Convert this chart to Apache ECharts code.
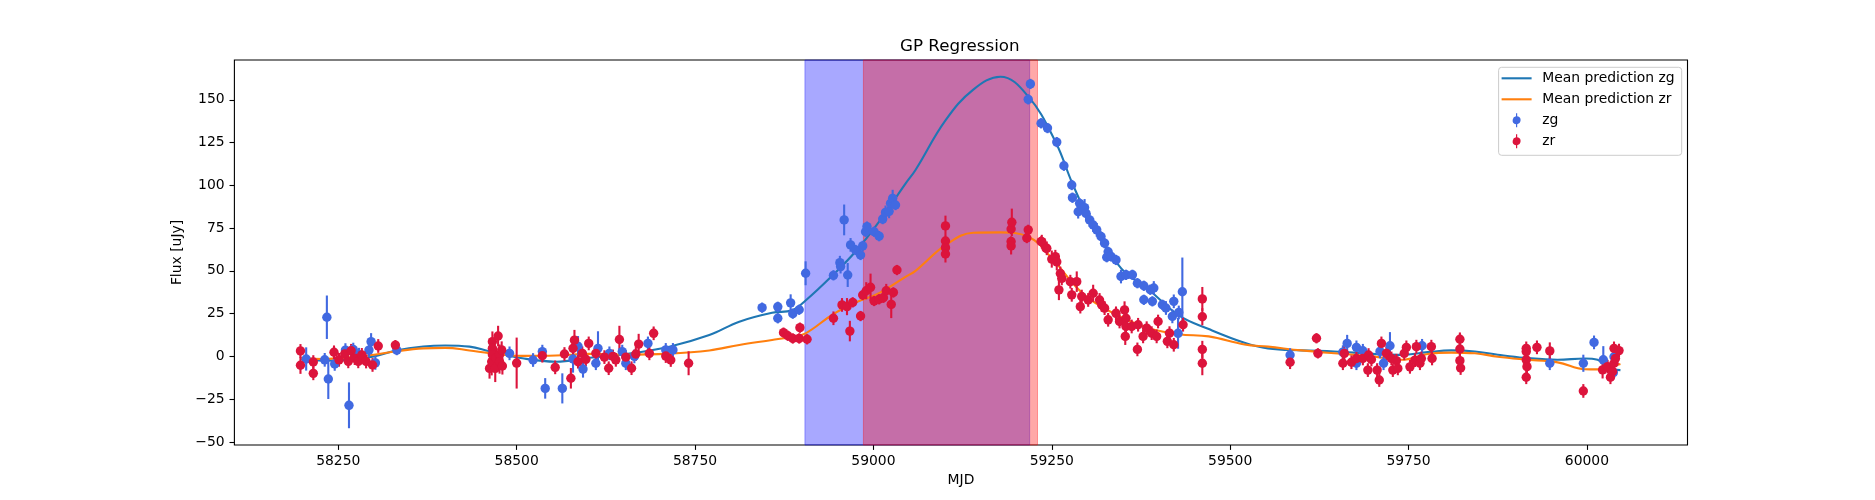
<!DOCTYPE html>
<html>
<head>
<meta charset="utf-8">
<script src="https://cdn.jsdelivr.net/npm/echarts@6/dist/echarts.min.js"></script>
<style>html,body{margin:0;padding:0;background:#fff}#c{width:1875px;height:500px}</style>
</head>
<body>
<div id="c"></div>
<script>
// ---- tick labels ----
const xTicks = [58250, 58500, 58750, 59000, 59250, 59500, 59750, 60000];
const yTicks = [-50, -25, 0, 25, 50, 75, 100, 125, 150];

// ---- shaded intervals (MJD) ----
const bandZg = [58904, 59219];
const bandZr = [58986, 59230];

// ---- GP mean predictions ----
const gpMjd = [58197,58230,58266,58300,58331,58369,58400,58434,58462,58508,58555,58602,58650,58714,58770,58812,58858,58886,58905,58943,58975,59008,59045,59059,59101,59140,59178,59217,59255,59279,59303,59347,59386,59428,59470,59520,59553,59600,59646,59700,59740,59777,59810,59843,59875,59912,59959,59997,60015,60029,60047];
const gpZg = [-1.5,-2.5,-2,0,3.5,5.8,6.4,5.7,3,-1.1,-3.1,-0.8,1.2,5.7,12.5,20.3,25.5,27,32.7,47.5,61.3,78.8,101,109,138,156,163.5,152,125.7,101,80,51.6,39,24,16,8,4.7,3.5,2.9,1.5,0.9,2.5,3.5,2.9,1,-0.8,-2,-1.2,-2,-6.6,-8];
const gpZr = [-1,-1.5,-0.5,1,3,4.7,5,3.5,1.9,0.3,0.5,1.5,1,1.6,3.5,6.7,9.6,11.5,13.5,24.5,31.5,37,46.5,50,65,72.3,72.5,70,55,43,33.5,23,16.5,13,11.7,7,5.7,3.5,1.8,0,-2,1.4,2.2,1.8,-0.2,-1.8,-3.5,-7.5,-7.6,-6.5,-4.5];

// ---- zg observations ----
const zgMjd = [58205,58231,58234,58236,58245,58260,58265,58271,58279,58293,58296,58302,58332,58490,58523,58536,58540,58564,58579,58586,58593,58611,58614,58630,58648,58653,58665,58684,58709,58719,58844,58866,58866,58884,58887,58896,58905,58944,58953,58954,58959,58964,58968,58975,58982,58985,58989,58991,59001,59008,59013,59017,59022,59024,59027,59031,59217,59220,59235,59244,59257,59267,59278,59279,59287,59289,59296,59298,59303,59308,59313,59319,59324,59329,59327,59333,59340,59347,59354,59363,59370,59379,59379,59388,59391,59393,59405,59410,59419,59421,59427,59428,59433,59584,59658,59664,59677,59677,59686,59710,59715,59724,59769,59948,59995,60010,60023,60037,60038];
const zgFlux = [-1.5,-2,22.9,-13.2,-4.4,3.7,-28.6,4,1,3.7,8.6,-3.8,3.7,1.8,-2.1,2.8,-18.7,-18.7,-1.5,5.9,-7.4,-4,4.7,1.8,2.8,-4,0,7.6,3.8,3.8,28.5,29,22.3,31.3,25,27.3,48.6,47.4,54.8,52.5,79.8,47.6,65.2,62.2,59.3,64.6,72.9,75.9,72.9,70.3,80.3,84.2,84.8,89.5,92.4,88.5,150.3,159.3,136.3,133.5,125.3,111.5,100.2,92.8,84.6,89.5,87,83.6,79.8,76.8,74,70.1,66.2,61.2,58,58.5,56.4,46.7,47.7,47.7,42.8,41.3,33.1,39,32.2,40,30.2,28.3,23.4,32.2,13.5,25.7,37.8,0.8,2.5,7.6,5.3,-4,3.3,2.9,-4,6.2,6.2,-4,-4,8.2,-2,-9.5,-0.2];
const zgErr = [6.8,4,12.7,11.7,4,4,13.4,4,4,4,5,4,3,4,4,4,6,8.8,8,6,5,4,10,4,4,4,4,4,4,4,3,3,3,5,3,3,7,3,4,4,9,7,4,3,3,3,3,3,3,3,3,4,4,5,5,3,3,3,3,3,3,3,3,3,4,3,5,4,4,4,4,3,3,3,3,3,3,4,3,3,3,3,3,3,3,4,3,4,4,4,9,4,20,4,4,5,4,4,4,4,4,8,4,4,5,4,8,4,4];

// ---- zr observations ----
const zrMjd = [58197,58197,58215,58215,58244,58251,58259,58264,58268,58273,58278,58283,58289,58298,58306,58330,58462,58465,58466,58466,58466,58470,58471,58474,58476,58476,58479,58480,58500,58536,58554,58567,58576,58579,58581,58586,58592,58597,58601,58611,58623,58629,58635,58639,58644,58653,58661,58667,58671,58686,58692,58709,58716,58741,58874,58880,58887,58896,58897,58907,58944,58956,58963,58967,58971,58982,58985,58990,58996,59001,59008,59014,59018,59025,59028,59033,59101,59101,59101,59101,59193,59193,59193,59194,59215,59217,59235,59242,59236,59243,59250,59255,59257,59260,59262,59264,59276,59278,59285,59290,59292,59301,59308,59317,59320,59324,59329,59340,59345,59352,59353,59354,59354,59362,59370,59371,59378,59383,59390,59397,59399,59412,59415,59421,59434,59461,59461,59461,59461,59584,59621,59623,59658,59660,59670,59677,59686,59693,59694,59698,59706,59709,59712,59719,59726,59728,59733,59735,59744,59747,59752,59759,59761,59766,59768,59782,59783,59822,59822,59822,59823,59915,59915,59915,59916,59915,59930,59948,59995,60022,60029,60033,60036,60038,60040,60038,60045];
const zrFlux = [3.2,-5.2,-3.3,-9.9,2.4,-2,1.5,-2.9,3.3,-1,-2.9,0.9,-3,-5,6.1,6.6,-7,-3.1,8.6,4.7,1,-7,-1,11.9,1,-3.1,3.8,-5.6,-3.9,0.4,-6.4,1.4,-12.8,4.7,9.5,-3.1,1.8,-1.7,7.6,1.8,-0.4,-6.9,0,-2,9.9,-0.4,-6.9,1.4,7.2,1.8,13.5,0.2,-2.1,-4,13.9,12.1,10.5,10.5,16.8,10,22.3,30.1,29.1,14.8,31.6,23.6,35.9,38.4,40.4,32.4,33.4,34.3,38.4,30.4,37.4,50.5,76.3,67.5,63.6,59.9,74.5,67.2,64.6,78.4,69.2,74,67.2,63.3,67.1,63.2,56.9,58.3,55.3,38.9,48.5,45.6,43.7,36,43.7,29.1,35,33,36.9,33,30.1,28.2,21.4,25.2,20.4,27.2,11.7,22.3,17.5,17.5,4.1,18.5,11.7,16.5,13.6,11.7,20.4,8.8,13.6,6.8,18.5,33.6,23.2,4.1,-4,-3.4,10.6,1.8,-4,1.8,-3.4,-1.2,-1.2,-8,0.8,-1.8,-8,-13.8,7.6,1.8,-1.2,-8,-2.5,-7,1.8,5.3,-6.1,-2.2,5.7,-4,-1.2,5.7,-1.2,10,4.3,-2.5,-6.8,4.7,2.8,-2,-6,-12.2,5.3,3.2,-20.2,-7.9,-6,-12.2,-8.8,-4,-1.2,4.7,3.4];
const zrErr = [4,5,4,4,4,4,4,4,4,4,4,4,4,4,4,3,6,8,6,6,7,8,6,6,6,7,5,5,14.9,4,4,4,6,6,6,4,4,4,4,4,4,4,4,4,8,4,4,4,6,4,4,4,4,7,3,3,3,3,3,3,4,4,5,6,3,3,3,5,8,3,3,3,4,8,3,3,6,3,3,5,3,3,5,8,3,3,3,3,4,4,5,4,5,6,4,4,4,4,6,4,4,4,5,4,4,4,4,4,4,5,5,5,5,4,4,4,4,4,4,4,4,4,4,4,4,7,5,5,7,4,3,3,4,4,4,4,4,4,4,4,4,4,4,4,4,4,4,4,4,4,4,4,4,4,4,4,4,4,4,4,4,4,4,4,4,4,4,5,4,5,4,4,4,4,4,4,4,4];

const FONT = 'DejaVu Sans';
const C_ZG = '#4169e1', C_ZR = '#dc143c', C_L1 = '#1f77b4', C_L2 = '#ff7f0e';
const fmt = v => String(v).replace('-', '\u2212');
const zip = (a, b, c) => a.map((v, i) => c ? [v, b[i], c[i]] : [v, b[i]]);
const errIcon = 'path://M4.4,0H5.6V3.05A4,4,0,0,1,5.6,10.95V14H4.4V10.95A4,4,0,0,1,4.4,3.05Z';
const lineIcon = 'path://M0,0M30,14M0,5.95H30V8.05H0Z';

function errSeries(name, data, color) {
  return {
    type: 'custom', name: name, data: data, silent: true, clip: true,
    encode: { x: 0, y: 1 },
    renderItem: function (params, api) {
      const x = api.value(0), y = api.value(1), e = api.value(2);
      const p1 = api.coord([x, y - e]), p2 = api.coord([x, y + e]);
      return { type: 'line', shape: { x1: p1[0], y1: p1[1], x2: p2[0], y2: p2[1] },
        style: { stroke: color, lineWidth: 2.1 } };
    }
  };
}

const chart = echarts.init(document.getElementById('c'), null, { renderer: 'canvas' });
chart.setOption({
  animation: false,
  backgroundColor: '#fff',
  title: { text: 'GP Regression', left: 900, top: 38, padding: 0,
    textStyle: { fontFamily: FONT, fontSize: 16.7, fontWeight: 'normal', color: '#000' } },
  grid: { left: 234.4, right: 187.5, top: 60, bottom: 55, show: true, borderColor: '#000', borderWidth: 1.1, backgroundColor: 'transparent' },
  legend: {
    orient: 'vertical', left: 1498.6, top: 67.3, padding: [4, 7, 7, 3],
    itemWidth: 30, itemHeight: 14, itemGap: 7,
    backgroundColor: '#fff', borderColor: '#cccccc', borderWidth: 1, borderRadius: 3,
    textStyle: { fontFamily: FONT, fontSize: 13.9, color: '#000', padding: [0, 0, 0, 5.6] },
    selectedMode: false,
    data: [ { name: 'Mean prediction zg', icon: lineIcon, itemStyle: { color: C_L1 } },
            { name: 'Mean prediction zr', icon: lineIcon, itemStyle: { color: C_L2 } },
            { name: 'zg', icon: errIcon }, { name: 'zr', icon: errIcon } ]
  },
  xAxis: {
    type: 'value', min: 58104.4, max: 60141,
    name: 'MJD', nameLocation: 'middle', nameGap: 28,
    nameTextStyle: { fontFamily: FONT, fontSize: 13.9, color: '#000' },
    axisLine: { show: false, onZero: false },
    axisTick: { show: true, customValues: xTicks, length: 4.9, lineStyle: { color: '#000', width: 1.1 } },
    axisLabel: { show: true, customValues: xTicks, margin: 9.8, fontFamily: FONT, fontSize: 13.9, color: '#000', formatter: v => fmt(v) },
    splitLine: { show: false }
  },
  yAxis: {
    type: 'value', min: -51.8, max: 173.3,
    name: 'Flux [uJy]', nameLocation: 'middle', nameGap: 41,
    nameTextStyle: { fontFamily: FONT, fontSize: 13.9, color: '#000' },
    axisLine: { show: false, onZero: false },
    axisTick: { show: true, customValues: yTicks, length: 4.9, lineStyle: { color: '#000', width: 1.1 } },
    axisLabel: { show: true, customValues: yTicks, margin: 9.8, fontFamily: FONT, fontSize: 13.9, color: '#000', formatter: v => fmt(v) },
    splitLine: { show: false }
  },
  series: [
    { type: 'line', name: 'bands', data: [], silent: true, z: 1,
      markArea: { silent: true, z: 1,
        data: [
          [ { xAxis: bandZg[0], itemStyle: { color: 'rgba(0,0,255,0.34)', borderColor: 'rgba(0,0,255,0.34)', borderWidth: 1 } }, { xAxis: bandZg[1] } ],
          [ { xAxis: bandZr[0], itemStyle: { color: 'rgba(255,0,0,0.34)', borderColor: 'rgba(255,0,0,0.34)', borderWidth: 1 } }, { xAxis: bandZr[1] } ]
        ] } },
    { type: 'line', name: 'Mean prediction zg', data: zip(gpMjd, gpZg), symbol: 'none', showSymbol: false, smooth: 0.4,
      lineStyle: { color: C_L1, width: 2.1 }, itemStyle: { color: C_L1 }, z: 2 },
    { type: 'line', name: 'Mean prediction zr', data: zip(gpMjd, gpZr), symbol: 'none', showSymbol: false, smooth: 0.4,
      lineStyle: { color: C_L2, width: 2.1 }, itemStyle: { color: C_L2 }, z: 2 },
    Object.assign(errSeries('zg-err', zip(zgMjd, zgFlux, zgErr), C_ZG), { z: 3 }),
    { type: 'scatter', name: 'zg', data: zip(zgMjd, zgFlux), symbol: 'circle', symbolSize: 9.4,
      itemStyle: { color: C_ZG, opacity: 1 }, z: 3 },
    Object.assign(errSeries('zr-err', zip(zrMjd, zrFlux, zrErr), C_ZR), { z: 3 }),
    { type: 'scatter', name: 'zr', data: zip(zrMjd, zrFlux), symbol: 'circle', symbolSize: 9.4,
      itemStyle: { color: C_ZR, opacity: 1 }, z: 3 }
  ]
});
</script>
</body>
</html>
